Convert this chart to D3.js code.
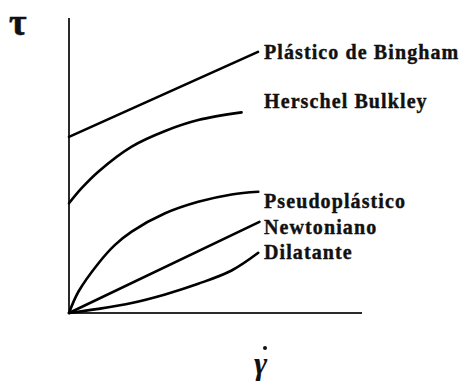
<!DOCTYPE html>
<html>
<head>
<meta charset="utf-8">
<script src="https://cdn.jsdelivr.net/npm/d3@7"></script>
<style>
  html, body { margin: 0; padding: 0; background: #fff; }
  svg { display: block; }
  .lbl { font-family: "Liberation Serif", "Times New Roman", serif; font-weight: bold; fill: #111; }
</style>
</head>
<body>
<svg id="chart" width="463" height="383"></svg>
<script>
// Rheograms: shear stress (τ) against shear rate (γ̇), arbitrary units 0–100.
const binghamX = [0, 64.5];
const binghamY = [59.7, 88.5];

const herschelX = [0, 4.3, 10.0, 21.4, 32.8, 44.1, 58.9];
const herschelY = [37.2, 42.3, 47.9, 56.4, 61.7, 65.4, 68.0];

const pseudoX = [0, 3.2, 10.0, 15.7, 21.4, 32.8, 44.1, 55.5, 64.6];
const pseudoY = [0, 7.2, 16.8, 23.1, 27.6, 33.8, 37.7, 40.2, 41.1];

const newtonX = [0, 65.0];
const newtonY = [0, 30.9];

const dilatX = [0, 10.0, 21.4, 32.8, 44.1, 55.5, 64.6];
const dilatY = [0, 1.4, 3.4, 6.3, 9.9, 14.4, 20.4];

const seriesNames = ["Plástico de Bingham", "Herschel Bulkley", "Pseudoplástico", "Newtoniano", "Dilatante"];
const axisTitleY = "τ";
const axisTitleX = "γ";

const svg = d3.select("#chart");

const x = d3.scaleLinear().domain([0, 100]).range([69, 362]);
const y = d3.scaleLinear().domain([0, 100]).range([313, 18]);

// axes: plain lines without ticks
svg.append("line")
  .attr("x1", x(0)).attr("x2", x(0)).attr("y1", y(0)).attr("y2", y(100))
  .attr("stroke", "#2a2a2a").attr("stroke-width", 2);
svg.append("line")
  .attr("x1", x(0)).attr("x2", x(100)).attr("y1", y(0)).attr("y2", y(0))
  .attr("stroke", "#2a2a2a").attr("stroke-width", 2);

const line = d3.line()
  .x(d => x(d[0]))
  .y(d => y(d[1]))
  .curve(d3.curveCatmullRom.alpha(0.5));

const series = [
  { xs: binghamX, ys: binghamY },
  { xs: herschelX, ys: herschelY },
  { xs: pseudoX, ys: pseudoY },
  { xs: newtonX, ys: newtonY },
  { xs: dilatX, ys: dilatY }
];

series.forEach(s => {
  const pts = s.xs.map((v, i) => [v, s.ys[i]]);
  svg.append("path")
    .attr("d", line(pts))
    .attr("fill", "none")
    .attr("stroke", "#000")
    .attr("stroke-width", 2.6)
    .attr("stroke-linecap", "round");
});

// curve labels
const labelPos = [
  { x: 264, y: 59 },
  { x: 264, y: 108 },
  { x: 264, y: 208 },
  { x: 264, y: 234 },
  { x: 264, y: 259 }
];
seriesNames.forEach((name, i) => {
  svg.append("text")
    .attr("class", "lbl")
    .attr("x", labelPos[i].x)
    .attr("y", labelPos[i].y)
    .attr("font-size", 20)
    .attr("letter-spacing", 1.1)
    .attr("stroke", "#111")
    .attr("stroke-width", 0.4)
    .text(name);
});

// axis titles
svg.append("text")
  .attr("class", "lbl")
  .attr("x", 9)
  .attr("y", 35)
  .attr("font-size", 38)
  .attr("stroke", "#111")
  .attr("stroke-width", 0.6)
  .text(axisTitleY);

svg.append("text")
  .attr("class", "lbl")
  .attr("x", 254)
  .attr("y", 374)
  .attr("font-size", 32)
  .attr("font-style", "italic")
  .text(axisTitleX);
svg.append("circle")
  .attr("cx", 265).attr("cy", 348).attr("r", 2)
  .attr("fill", "#111");
</script>
</body>
</html>
